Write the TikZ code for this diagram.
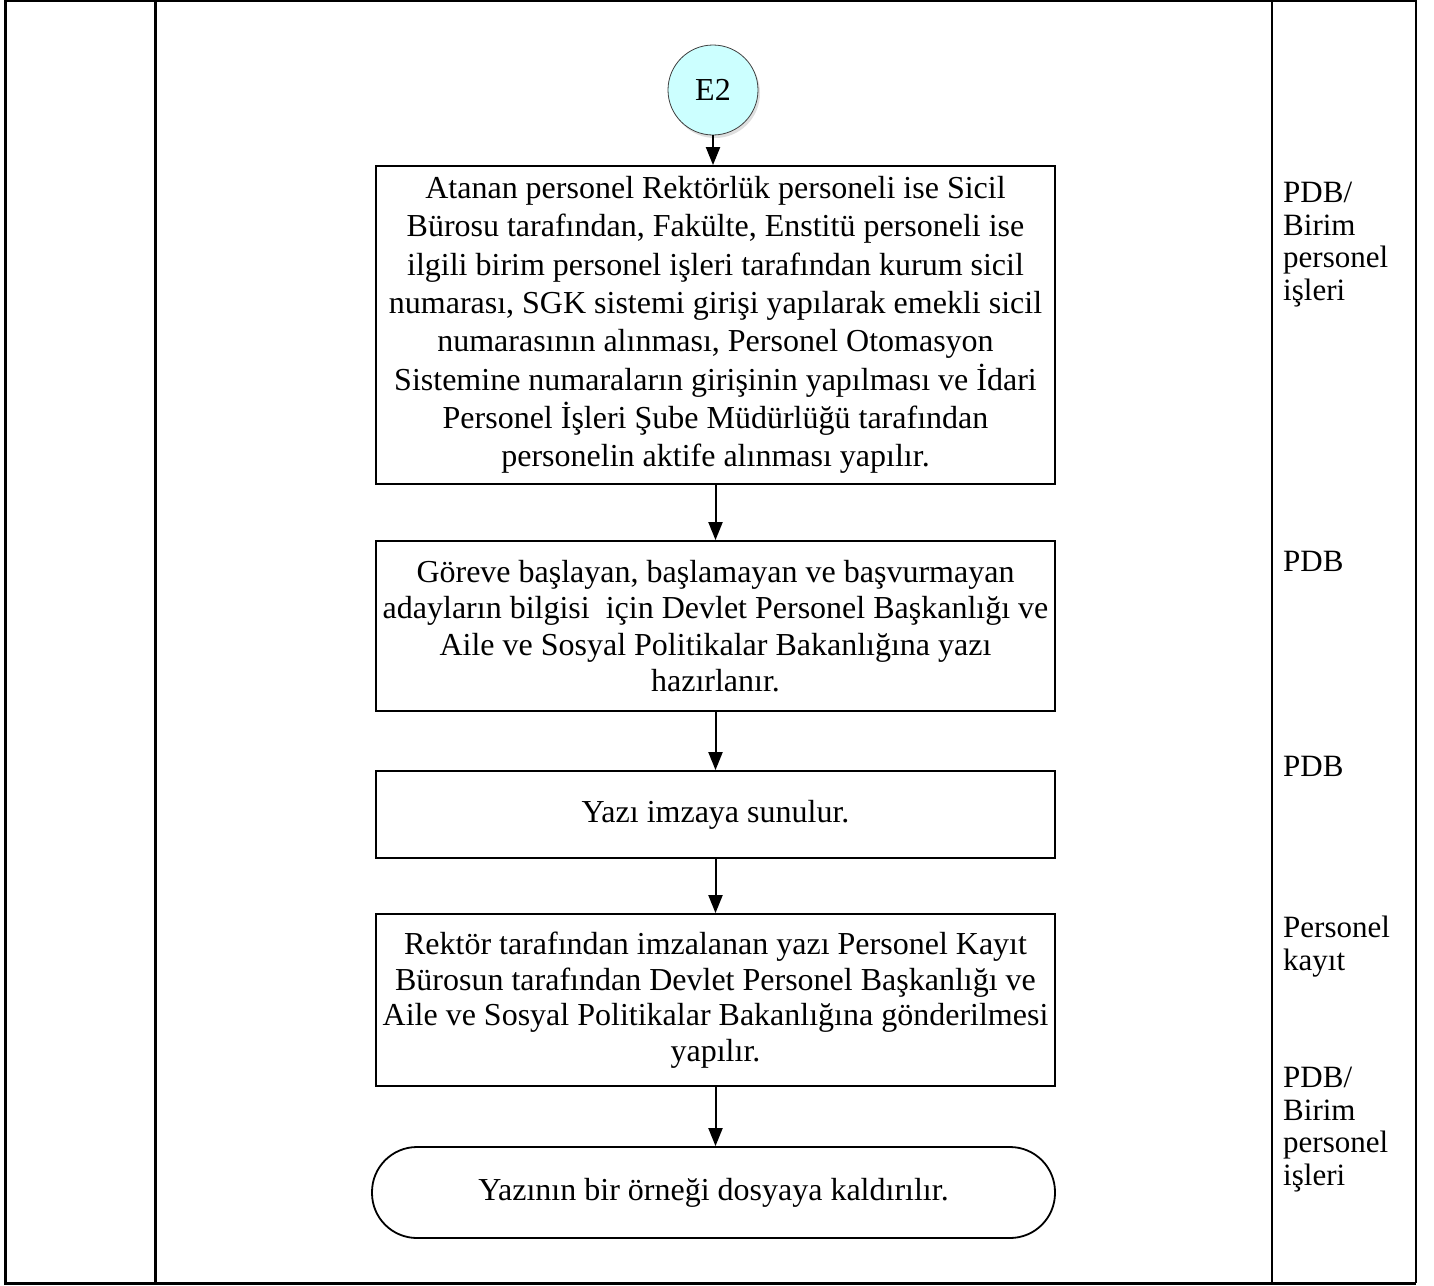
\documentclass[tikz,border=0pt]{standalone}
\usepackage{fontspec}
\setmainfont{Liberation Serif}
\usetikzlibrary{shadows,arrows.meta,positioning}
\definecolor{efill}{RGB}{204,255,255}
\begin{document}
\begin{tikzpicture}[x=1pt,y=-1pt,
  frame/.style={line width=3pt},
  lane/.style={line width=2.5pt},
  procbox/.style={draw, line width=1.8pt, minimum width=679pt, align=center, inner sep=0pt, font=\fontsize{32}{35.5}\selectfont},
  termbox/.style={draw, line width=1.8pt, rounded corners=45pt, minimum width=683pt, minimum height=91pt, align=center, inner sep=0pt, font=\fontsize{32}{35.5}\selectfont},
  conn/.style={draw, circle, line width=0.8pt, draw=black!75, fill=efill, minimum size=90pt, inner sep=0pt, font=\fontsize{32}{34}\selectfont, drop shadow={opacity=0.25, shadow xshift=2pt, shadow yshift=-3pt}},
  resp/.style={anchor=base west, align=left, inner sep=0pt, font=\fontsize{31}{32.5}\selectfont},
  flow/.style={line width=2pt, -{Triangle[length=18pt, width=14pt]}}
]
\useasboundingbox (0,0) rectangle (1434,1285);
\fill[white] (0,0) rectangle (1434,1285);
% frame
\draw[line width=2pt] (5,0.8) -- (1416,0.8);
\draw[frame] (5,0) -- (5,1283) -- (1416,1283);
\draw[frame] (155,0) -- (155,1283);
\draw[lane] (1272,0) -- (1272,1283);
\draw[lane] (1416,0) -- (1416,1283);

\node[conn] (e2) at (713,90) {E2};

\node[procbox, minimum height=318pt, font=\fontsize{32}{38.3}\selectfont] (b1) at (715.5,325) {Atanan personel Rektörlük personeli ise Sicil\\Bürosu tarafından, Fakülte, Enstitü personeli ise\\ilgili birim personel işleri tarafından kurum sicil\\numarası, SGK sistemi girişi yapılarak emekli sicil\\numarasının alınması, Personel Otomasyon\\Sistemine numaraların girişinin yapılması ve İdari\\Personel İşleri Şube Müdürlüğü tarafından\\personelin aktife alınması yapılır.};

\node[procbox, minimum height=170pt, font=\fontsize{32}{36.3}\selectfont] (b2) at (715.5,626) {Göreve başlayan, başlamayan ve başvurmayan\\adayların bilgisi\ \ için Devlet Personel Başkanlığı ve\\Aile ve Sosyal Politikalar Bakanlığına yazı\\hazırlanır.};

\node[procbox, minimum height=87pt] (b3) at (715.5,814.5) {Yazı imzaya sunulur.};

\node[procbox, minimum height=172pt] (b4) at (715.5,1000) {Rektör tarafından imzalanan yazı Personel Kayıt\\Bürosun tarafından Devlet Personel Başkanlığı ve\\Aile ve Sosyal Politikalar Bakanlığına gönderilmesi\\yapılır.};

\node[termbox] (t) at (713.5,1192.5) {Yazının bir örneği dosyaya kaldırılır.};

\draw[flow] (e2) -- (e2 |- b1.north);
\draw[flow] (b1) -- (b1 |- b2.north);
\draw[flow] (b2) -- (b2 |- b3.north);
\draw[flow] (b3) -- (b3 |- b4.north);
\draw[flow] (b4.south) -- (b4.south |- t.north);

\node[resp] (r1) at (1283,300) {PDB/\\Birim\\personel\\işleri};
\node[resp] (r2) at (1283,571) {PDB};
\node[resp] (r3) at (1283,776) {PDB};
\node[resp] (r4) at (1283,970) {Personel\\kayıt};
\node[resp] (r5) at (1283,1185) {PDB/\\Birim\\personel\\işleri};
\end{tikzpicture}
\end{document}
